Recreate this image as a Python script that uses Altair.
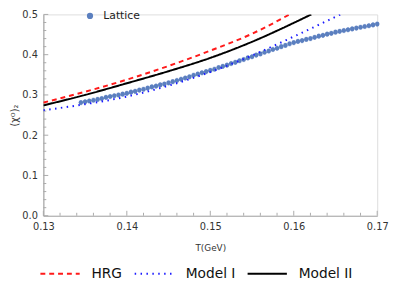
import altair as alt
import pandas as pd

# ---- data ----
MODELS = ["HRG", "Model I", "Model II"]
COLORS = ["#ff1a1a", "#1a1aff", "#000000"]
DASHES = [[5, 4], [1.5, 4.5], [1, 0]]

HRG_T = [0.13, 0.135, 0.14, 0.145, 0.15, 0.155, 0.1595]
HRG_V = [0.281, 0.308, 0.338, 0.372, 0.410, 0.452, 0.500]

M1_T = [0.13, 0.135, 0.14, 0.145, 0.15, 0.155, 0.16, 0.1656]
M1_V = [0.262, 0.277, 0.296, 0.323, 0.357, 0.398, 0.445, 0.500]

M2_T = [0.13, 0.135, 0.14, 0.145, 0.15, 0.155, 0.16, 0.1621]
M2_V = [0.274, 0.300, 0.329, 0.359, 0.392, 0.432, 0.479, 0.500]

LAT_T = [0.1345, 0.1350, 0.1355, 0.1360, 0.1365, 0.1370, 0.1375, 0.1380, 0.1385, 0.1390,
         0.1395, 0.1400, 0.1405, 0.1410, 0.1415, 0.1420, 0.1425, 0.1430, 0.1435, 0.1440,
         0.1445, 0.1450, 0.1455, 0.1460, 0.1465, 0.1470, 0.1475, 0.1480, 0.1485, 0.1490,
         0.1495, 0.1500, 0.1505, 0.1510, 0.1515, 0.1520, 0.1525, 0.1530, 0.1535, 0.1540,
         0.1545, 0.1550, 0.1555, 0.1560, 0.1565, 0.1570, 0.1575, 0.1580, 0.1585, 0.1590,
         0.1595, 0.1600, 0.1605, 0.1610, 0.1615, 0.1620, 0.1625, 0.1630, 0.1635, 0.1640,
         0.1645, 0.1650, 0.1655, 0.1660, 0.1665, 0.1670, 0.1675, 0.1680, 0.1685, 0.1690,
         0.1695, 0.1700]
LAT_V = [0.281, 0.283, 0.285, 0.287, 0.289, 0.291, 0.294, 0.296, 0.298, 0.300,
         0.302, 0.304, 0.307, 0.309, 0.312, 0.314, 0.317, 0.320, 0.322, 0.325,
         0.327, 0.330, 0.333, 0.336, 0.339, 0.342, 0.345, 0.349, 0.352, 0.355,
         0.358, 0.361, 0.364, 0.368, 0.371, 0.374, 0.378, 0.381, 0.385, 0.388,
         0.392, 0.395, 0.399, 0.402, 0.406, 0.409, 0.413, 0.416, 0.420, 0.423,
         0.427, 0.430, 0.433, 0.435, 0.438, 0.440, 0.443, 0.446, 0.448, 0.451,
         0.453, 0.456, 0.458, 0.460, 0.462, 0.464, 0.466, 0.468, 0.470, 0.472,
         0.474, 0.476]
LAT_ERR = 0.0065

X_MAJOR = [0.13, 0.14, 0.15, 0.16, 0.17]
X_MINOR = [0.132, 0.134, 0.136, 0.138, 0.142, 0.144, 0.146, 0.148,
           0.152, 0.154, 0.156, 0.158, 0.162, 0.164, 0.166, 0.168]
Y_MAJOR = [0.0, 0.1, 0.2, 0.3, 0.4, 0.5]
Y_MINOR = [0.02, 0.04, 0.06, 0.08, 0.12, 0.14, 0.16, 0.18, 0.22, 0.24, 0.26, 0.28,
           0.32, 0.34, 0.36, 0.38, 0.42, 0.44, 0.46, 0.48]

# ---- tables ----
rows = []
for name, ts, vs in [("HRG", HRG_T, HRG_V), ("Model I", M1_T, M1_V), ("Model II", M2_T, M2_V)]:
    for t, v in zip(ts, vs):
        rows.append({"model": name, "T": t, "v": v})
lines_df = pd.DataFrame(rows)

lat_df = pd.DataFrame({"T": LAT_T, "v": LAT_V})
lat_df["lo"] = lat_df["v"] - LAT_ERR
lat_df["hi"] = lat_df["v"] + LAT_ERR
lat_df["series"] = "Lattice"

xt_major = pd.DataFrame({"T": X_MAJOR})
xt_minor = pd.DataFrame({"T": X_MINOR})
yt_major = pd.DataFrame({"v": Y_MAJOR})
yt_minor = pd.DataFrame({"v": Y_MINOR})

W, H = 340, 205
FONT = "DejaVu Sans"
AXC = "#aaaaaa"

xs = alt.Scale(domain=[0.13, 0.17], nice=False, zero=False)
ys = alt.Scale(domain=[0, 0.5], nice=False, zero=True)

xaxis = alt.Axis(values=X_MAJOR, format=".2f", ticks=False, grid=False,
                 domainColor=AXC, domainWidth=1.2, labelFont=FONT, labelFontSize=10,
                 labelColor="#333333", labelPadding=6, labelFlush=False, labelOverlap=False,
                 labelBound=False, title="T(GeV)", titleFont=FONT, titleFontSize=9,
                 titleFontWeight="normal", titleColor="#333333", titlePadding=12)
yaxis = alt.Axis(values=Y_MAJOR, format=".1f", ticks=False, grid=False,
                 domainColor=AXC, domainWidth=1.2, labelFont=FONT, labelFontSize=10,
                 labelColor="#333333", labelPadding=6, labelFlush=False, labelOverlap=False,
                 title="(χᴼ)₂", titleFont=FONT, titleFontSize=10,
                 titleFontWeight="normal", titleColor="#333333", titlePadding=2)

X = alt.X("T:Q", scale=xs, axis=xaxis)
Y = alt.Y("v:Q", scale=ys, axis=yaxis)

line_legend = alt.Legend(orient="none", legendX=-4, legendY=243, direction="horizontal",
                         title=None, symbolType="stroke", symbolSize=1600,
                         symbolStrokeWidth=2, labelFont=FONT, labelFontSize=14,
                         labelColor="#111111", labelOffset=11, columnPadding=8, padding=0)

lat_err = alt.Chart(lat_df).mark_rule(color="#aec2e6", strokeWidth=2.2).encode(
    x=X, y=alt.Y("lo:Q", scale=ys, axis=yaxis), y2="hi:Q")

lat_pts = alt.Chart(lat_df).mark_point(filled=True, size=22, opacity=1, shape="circle").encode(
    x=X, y=Y,
    color=alt.Color("series:N", scale=alt.Scale(domain=["Lattice"], range=["#5b7fbf"]),
                    legend=alt.Legend(orient="none", legendX=42, legendY=-4, title=None,
                                      symbolType="circle", symbolSize=40, labelFont=FONT,
                                      labelFontSize=11, labelColor="#222222",
                                      labelOffset=8, padding=0)))

lines = alt.Chart(lines_df).mark_line(strokeWidth=2, clip=True, interpolate="monotone",
                                      strokeCap="butt").encode(
    x=X, y=Y,
    color=alt.Color("model:N", scale=alt.Scale(domain=MODELS, range=COLORS), legend=line_legend),
    strokeDash=alt.StrokeDash("model:N", scale=alt.Scale(domain=MODELS, range=DASHES),
                              legend=line_legend),
    detail="model:N")

xt1 = alt.Chart(xt_major).mark_rule(color=AXC).encode(x=X, y=alt.value(H), y2=alt.value(H - 5))
xt2 = alt.Chart(xt_minor).mark_rule(color=AXC).encode(x=X, y=alt.value(H), y2=alt.value(H - 3))
yt1 = alt.Chart(yt_major).mark_rule(color=AXC).encode(y=Y, x=alt.value(0), x2=alt.value(5))
yt2 = alt.Chart(yt_minor).mark_rule(color=AXC).encode(y=Y, x=alt.value(0), x2=alt.value(3))

chart = alt.layer(xt1, xt2, yt1, yt2, lat_err, lat_pts, lines).resolve_scale(
    color="independent", strokeDash="independent"
).properties(
    width=W, height=H,
    autosize=alt.AutoSizeParams(type="none"),
    padding={"left": 36, "top": 4, "right": 12, "bottom": 68},
).configure_view(stroke=None).configure(background="white")

chart.save("out.html", embed_options={"renderer": "svg", "actions": False})
